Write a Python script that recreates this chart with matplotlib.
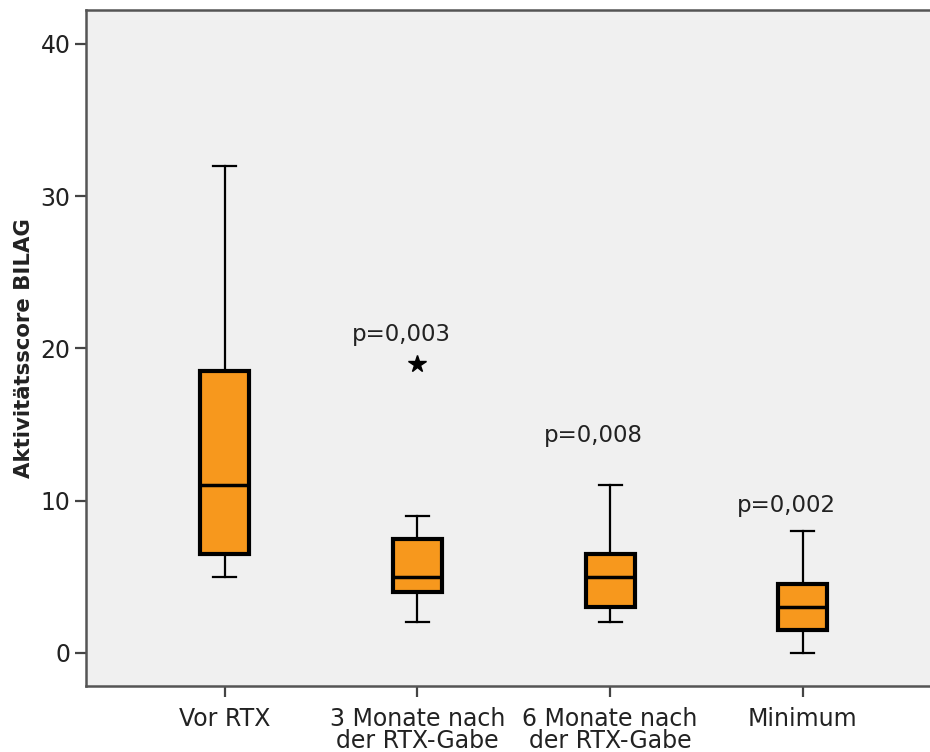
import numpy as np
import matplotlib.pyplot as plt

# Werte
groups = ['Vor RTX', '3 Monate nach\nder RTX-Gabe', '6 Monate nach\nder RTX-Gabe', 'Minimum']
whis_lo = [5, 2, 2, 0]
q1 = [6.5, 4, 3, 1.5]
median = [11, 5, 5, 3]
q3 = [18.5, 7.5, 6.5, 4.5]
whis_hi = [32, 9, 11, 8]
outliers = [[], [19], [], []]
p_labels = ['', 'p=0,003', 'p=0,008', 'p=0,002']
p_pos = [None, 20.9, 14.3, 9.7]

plt.rcParams['font.family'] = ['DejaVu Sans']

stats = []
for i in range(len(groups)):
    stats.append({'med': median[i], 'q1': q1[i], 'q3': q3[i],
                  'whislo': whis_lo[i], 'whishi': whis_hi[i],
                  'fliers': outliers[i], 'label': groups[i]})

fig = plt.figure(figsize=(9.3, 7.52), dpi=100)
ax = fig.add_axes([0.0925, 0.0878, 0.9175, 0.899])
ax.set_facecolor('#f0f0f0')

pos = np.arange(len(groups))
ax.bxp(stats, positions=pos, widths=0.255, patch_artist=True, shownotches=False,
       boxprops=dict(facecolor='#f7981d', edgecolor='black', linewidth=3),
       medianprops=dict(color='black', linewidth=2.5),
       whiskerprops=dict(color='black', linewidth=1.6),
       capprops=dict(color='black', linewidth=1.6),
       capwidths=0.12,
       flierprops=dict(marker='*', markersize=13, markeredgewidth=1,
                       markerfacecolor='black', markeredgecolor='black',
                       linestyle='none'))

for i, lab in enumerate(p_labels):
    if lab:
        ax.text(pos[i] - 0.085, p_pos[i], lab, ha='center', va='center',
                fontsize=16.5, color='#222222')

ax.set_xlim(-0.72, 3.708)
ax.set_ylim(-2.17, 42.23)
ax.set_yticks([0, 10, 20, 30, 40])
ax.set_xticks(pos)
ax.set_xticklabels(groups, fontsize=17, color='#222222', linespacing=0.92)
ax.tick_params(axis='y', labelsize=17, labelcolor='#222222', pad=3)
ax.tick_params(axis='x', pad=7)
ax.tick_params(length=8, width=1.6, color='#444444')
ax.set_ylabel('Aktivitätsscore BILAG', fontsize=15.3, fontweight='bold',
              color='#222222')
ax.yaxis.set_label_coords(-0.061, 0.5)

for side in ['left', 'bottom', 'top']:
    ax.spines[side].set_color('#555555')
    ax.spines[side].set_linewidth(1.8)
ax.spines['right'].set_visible(False)

fig.savefig('out.png', dpi=100)
